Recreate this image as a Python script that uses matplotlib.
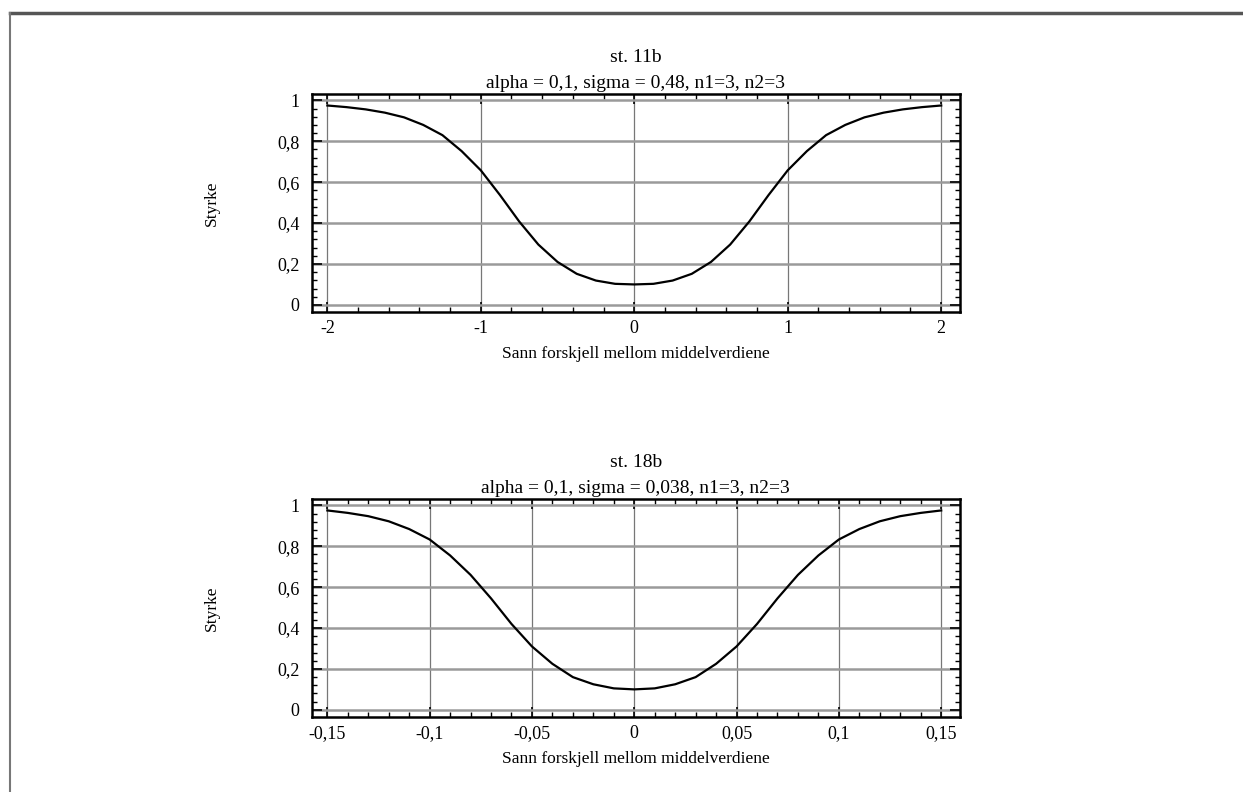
import numpy as np
import matplotlib
matplotlib.use('Agg')
import matplotlib.pyplot as plt
from matplotlib.ticker import MultipleLocator, AutoMinorLocator, FuncFormatter
from matplotlib.lines import Line2D

plt.rcParams['font.family'] = ['Liberation Serif', 'DejaVu Serif']

# st. 11b
diff_11b = [-2.0, -1.875, -1.75, -1.625, -1.5, -1.375, -1.25, -1.125, -1.0,
            -0.875, -0.75, -0.625, -0.5, -0.375, -0.25, -0.125, 0.0,
            0.125, 0.25, 0.375, 0.5, 0.625, 0.75, 0.875, 1.0,
            1.125, 1.25, 1.375, 1.5, 1.625, 1.75, 1.875, 2.0]
power_11b = [0.975, 0.967, 0.956, 0.940, 0.917, 0.880, 0.830, 0.752, 0.658,
             0.537, 0.408, 0.295, 0.210, 0.152, 0.119, 0.103, 0.100,
             0.103, 0.119, 0.152, 0.210, 0.295, 0.408, 0.537, 0.658,
             0.752, 0.830, 0.880, 0.917, 0.940, 0.956, 0.967, 0.975]

# st. 18b
diff_18b = [-0.15, -0.14, -0.13, -0.12, -0.11, -0.10, -0.09, -0.08, -0.07,
            -0.06, -0.05, -0.04, -0.03, -0.02, -0.01, 0.0,
            0.01, 0.02, 0.03, 0.04, 0.05, 0.06, 0.07, 0.08,
            0.09, 0.10, 0.11, 0.12, 0.13, 0.14, 0.15]
power_18b = [0.975, 0.963, 0.947, 0.922, 0.884, 0.833, 0.755, 0.660, 0.545,
             0.420, 0.310, 0.225, 0.160, 0.125, 0.105, 0.100,
             0.105, 0.125, 0.160, 0.225, 0.310, 0.420, 0.545, 0.660,
             0.755, 0.833, 0.884, 0.922, 0.947, 0.963, 0.975]

panels = [
  ('st. 11b', 'alpha = 0,1, sigma = 0,48, n1=3, n2=3', diff_11b, power_11b,
   (-2.1, 2.12), 1.0, 0.2),
  ('st. 18b', 'alpha = 0,1, sigma = 0,038, n1=3, n2=3', diff_18b, power_18b,
   (-0.1575, 0.159), 0.05, 0.01),
]

def comma(v, pos):
  s = f'{v:.4g}'
  if s == '-0':
    s = '0'
  return s.replace('.', ',')

fig = plt.figure(figsize=(12.43, 7.92), dpi=100)

# scanned page frame
fig.add_artist(Line2D([0.008, 1.0], [1 - 13 / 792] * 2, color='#555555', lw=2.5))
fig.add_artist(Line2D([10 / 1243] * 2, [0.0, 1 - 13 / 792], color='#777777', lw=1.5))

rects = [[0.251, 0.606, 0.521, 0.275], [0.251, 0.0947, 0.521, 0.275]]

for rect, (title, sub, xs, ys, xlim, xmaj, xmin) in zip(rects, panels):
  ax = fig.add_axes(rect)
  ax.plot(xs, ys, color='black', lw=1.6, zorder=3)
  ax.set_xlim(*xlim)
  ax.set_ylim(-0.035, 1.03)

  ax.xaxis.set_major_locator(MultipleLocator(xmaj))
  ax.xaxis.set_minor_locator(MultipleLocator(xmin))
  ax.yaxis.set_major_locator(MultipleLocator(0.2))
  ax.yaxis.set_minor_locator(AutoMinorLocator(5))
  ax.xaxis.set_major_formatter(FuncFormatter(comma))
  ax.yaxis.set_major_formatter(FuncFormatter(comma))

  ax.grid(axis='x', which='major', color='#777777', lw=0.9)
  ax.grid(axis='y', which='major', color='#9a9a9a', lw=1.8)

  ax.tick_params(which='both', direction='in', top=True, right=True,
                 colors='black', labelsize=13)
  ax.tick_params(which='major', length=7, width=1.2)
  ax.tick_params(which='minor', length=3.5, width=1.0)
  ax.tick_params(axis='x', pad=6)
  ax.tick_params(axis='y', pad=9)

  for sp in ax.spines.values():
    sp.set_linewidth(1.8)

  ax.set_xlabel('Sann forskjell mellom middelverdiene', fontsize=12.5)
  ax.xaxis.set_label_coords(0.5, -0.155)
  ax.set_ylabel('Styrke', fontsize=12.5)
  ax.yaxis.set_label_coords(-0.143, 0.5)

  ax.text(0.5, 1.167, title, transform=ax.transAxes, ha='center', va='center',
          fontsize=14)
  ax.text(0.5, 1.05, sub, transform=ax.transAxes, ha='center', va='center',
          fontsize=14)

plt.savefig('out.png', dpi=100)
